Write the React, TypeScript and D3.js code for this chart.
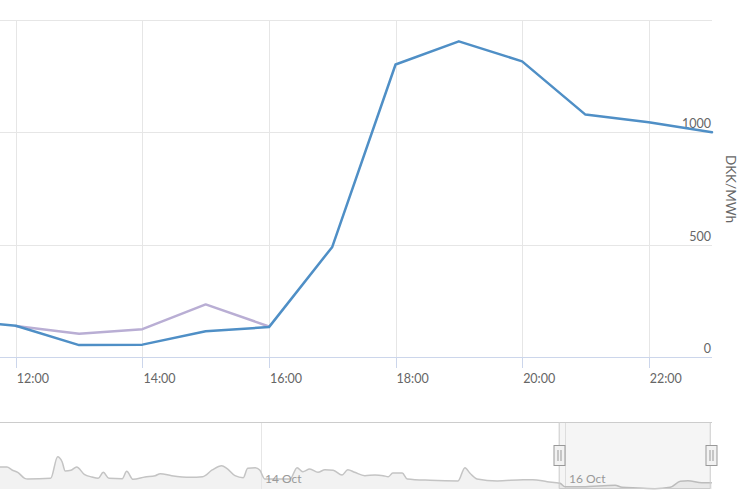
import React from "react";
import * as d3 from "d3";

// ---- data ----
const hours = [11, 12, 13, 14, 15, 16, 17, 18, 19, 20, 21, 22, 23];
const blueValues = [165, 139, 53, 55, 115, 133, 490, 1302, 1405, 1316, 1079, 1045, 1000];
const purpleHours = [12, 13, 14, 15, 16];
const purpleValues = [138, 103, 124, 234, 136];
const yTicks = [0, 500, 1000, 1500];
const yLabelTicks = [0, 500, 1000];
const axisTitle = "DKK/MWh";

// navigator: hours relative to 14 Oct 00:00
const navHours = [-41.2, -40.1, -39.3, -38.4, -37.3, -36.8, -33.2, -32.1, -31.4, -30.9, -30.0, -29.1, -27.9, -26.7, -25.7, -24.9, -24.0, -21.9, -21.2, -20.2, -18.3, -16.7, -15.9, -14.1, -11.2, -9.2, -7.7, -6.2, -5.4, -4.1, -2.8, -2.1, -0.9, -0.2, 0.6, 1.4, 4.6, 5.7, 6.6, 7.7, 9.0, 10.1, 11.4, 12.8, 13.7, 14.8, 16.4, 18.0, 19.3, 20.1, 20.8, 22.3, 23.1, 26.7, 31.1, 32.2, 33.0, 34.1, 37.3, 41.4, 42.9, 45.2, 47.2, 48.0, 50.7, 55.9, 57.0, 59.5, 62.2, 64.6, 66.2, 67.4, 69.6, 71.2];
const navValues = [200, 200, 173, 152, 97, 91, 97, 294, 248, 164, 170, 200, 134, 109, 97, 152, 97, 94, 161, 88, 109, 121, 139, 121, 106, 112, 173, 212, 188, 121, 103, 188, 194, 173, 91, 91, 91, 194, 157, 182, 152, 175, 170, 127, 175, 152, 121, 127, 121, 112, 145, 145, 91, 79, 73, 194, 143, 91, 73, 85, 85, 66, 52, 21, 21, 34, 15, 9, 3, 15, 70, 75, 57, 57];
const navTickDays = [14, 16];
const selectionHours = [47, 71];

const day = (d: number, h: number) => new Date(2023, 9, d, 0, 0).getTime() + h * 3600000;

export default function App() {
  const W = 750, H = 500;
  const plotL = 0, plotR = 712, plotT = 20, plotB = 357;
  const x = d3.scaleTime()
    .domain([new Date(day(16, 11.75)), new Date(day(16, 23))])
    .range([plotL, plotR]);
  const y = d3.scaleLinear().domain([0, 1500]).range([plotB, plotT]);

  const line = d3.line<[number, number]>()
    .x((d) => x(new Date(day(16, d[0]))))
    .y((d) => y(d[1]));

  const blueData: [number, number][] = hours.map((h, i) => [h, blueValues[i]]);
  const purpleData: [number, number][] = purpleHours.map((h, i) => [h, purpleValues[i]]);

  const xTicks = x.ticks(d3.timeHour.every(2) as any).filter((t) => x(t) >= plotL + 2);
  const fmt = d3.timeFormat("%H:%M");

  // navigator
  const navT = 422, navB = 489;
  const nx = d3.scaleTime()
    .domain([new Date(day(14, navHours[0])), new Date(day(14, navHours[navHours.length - 1]))])
    .range([plotL, plotR]);
  const ny = d3.scaleLinear().domain([0, 600]).range([navB, navT + 1]);
  const navData: [number, number][] = navHours.map((h, i) => [h, navValues[i]]);
  const navLine = d3.line<[number, number]>()
    .x((d) => nx(new Date(day(14, d[0]))))
    .y((d) => ny(d[1]))
    .curve(d3.curveMonotoneX);
  const navArea = d3.area<[number, number]>()
    .x((d) => nx(new Date(day(14, d[0]))))
    .y0(navB)
    .y1((d) => ny(d[1]))
    .curve(d3.curveMonotoneX);
  const navFmt = d3.timeFormat("%-d %b");
  const selL = nx(new Date(day(14, selectionHours[0])));
  const selR = nx(new Date(day(14, selectionHours[1])));

  const font = "Lato, 'Open Sans', sans-serif";

  const handle = (cx: number) => (
    <g key={cx}>
      <rect x={cx - 5.5} y={445.5} width={11} height={20} fill="#f2f2f2" stroke="#999" strokeWidth={1} />
      <line x1={cx - 1.5} x2={cx - 1.5} y1={450} y2={461} stroke="#999" strokeWidth={1} />
      <line x1={cx + 1.5} x2={cx + 1.5} y1={450} y2={461} stroke="#999" strokeWidth={1} />
    </g>
  );

  return (
    <svg width={W} height={H} style={{ position: "absolute", left: 0, top: 0, background: "#fff" }} fontFamily={font}>
      <rect x={0} y={0} width={W} height={H} fill="#fff" />
      {yTicks.map((t) => (
        <line key={"hg" + t} x1={plotL} x2={plotR} y1={Math.round(y(t)) + 0.5} y2={Math.round(y(t)) + 0.5} stroke="#e6e6e6" strokeWidth={1} />
      ))}
      {xTicks.map((t) => (
        <line key={"vg" + +t} x1={Math.round(x(t)) + 0.5} x2={Math.round(x(t)) + 0.5} y1={plotT} y2={plotB} stroke="#e6e6e6" strokeWidth={1} />
      ))}
      <line x1={plotL} x2={plotR} y1={plotB + 0.5} y2={plotB + 0.5} stroke="#ccd6eb" strokeWidth={1} />
      {xTicks.map((t) => (
        <g key={"xt" + +t}>
          <line x1={Math.round(x(t)) + 0.5} x2={Math.round(x(t)) + 0.5} y1={plotB} y2={plotB + 11} stroke="#ccd6eb" strokeWidth={1} />
          <text x={x(t) + 1} y={383} fontSize={12.5} fill="#666">{fmt(t)}</text>
        </g>
      ))}
      {yLabelTicks.map((t) => (
        <text key={"yl" + t} x={711} y={y(t) - 4} fontSize={12.5} fill="#666" textAnchor="end">{t}</text>
      ))}
      <text transform={`translate(726,189) rotate(90)`} fontSize={13.5} fill="#666" textAnchor="middle">{axisTitle}</text>
      <path d={line(purpleData) || ""} fill="none" stroke="#b9aed4" strokeWidth={2.5} strokeLinejoin="round" strokeLinecap="round" />
      <path d={line(blueData) || ""} fill="none" stroke="#4f8fc6" strokeWidth={2.5} strokeLinejoin="round" strokeLinecap="round" />

      <path d={navArea(navData) || ""} fill="#f2f2f2" stroke="none" />
      {navTickDays.map((d) => {
        const px = nx(new Date(day(d, 0)));
        return (
          <line key={"nt" + d} x1={Math.round(px) + 0.5} x2={Math.round(px) + 0.5} y1={navT} y2={navB} stroke="#e6e6e6" strokeWidth={1} />
        );
      })}
      <path d={navLine(navData) || ""} fill="none" stroke="#c4c4c4" strokeWidth={1.5} />
      <rect x={selL} y={navT} width={selR - selL} height={navB - navT} fill="rgba(0,0,0,0.04)" />
      {navTickDays.map((d) => {
        const px = nx(new Date(day(d, 0)));
        return (
          <text key={"ntl" + d} x={px + 4} y={483} fontSize={12} fill="#999">{navFmt(new Date(day(d, 0)))}</text>
        );
      })}
      <path d={`M${plotL},${navT + 0.5}H${selL + 0.5}V${navB - 0.5}H${selR - 0.5}V${navT + 0.5}H${plotR}`} fill="none" stroke="#cccccc" strokeWidth={1} />
      <line x1={selL + 0.5} x2={selR} y1={navT + 0.5} y2={navT + 0.5} stroke="#cccccc" strokeWidth={1} />
      {handle(Math.round(selL) + 0.5)}
      {handle(Math.round(selR) + 0.5)}
    </svg>
  );
}
